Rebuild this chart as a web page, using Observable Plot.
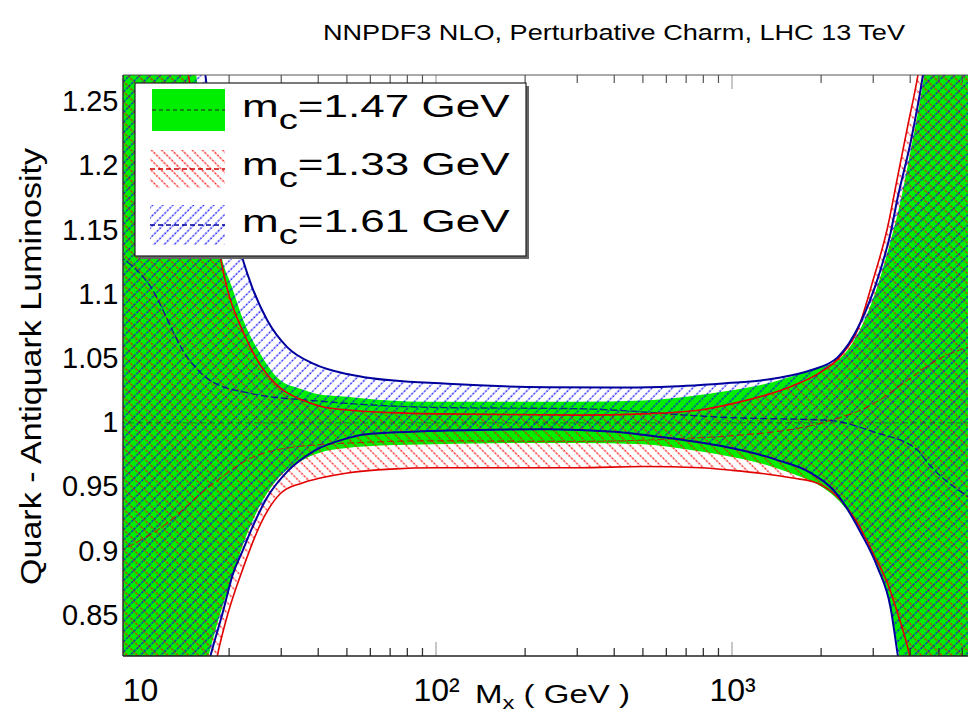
<!DOCTYPE html>
<html><head><meta charset="utf-8">
<script src="https://cdn.jsdelivr.net/npm/d3@7"></script>
<script src="https://cdn.jsdelivr.net/npm/@observablehq/plot@0.6"></script>
<style>body{margin:0;background:#fff} #chart svg{font-family:"Liberation Sans",Arial,sans-serif}</style>
</head><body><div id="chart"></div>
<script>
// ---------- data ----------
const xDomain = [8.76, 6270];
const yDomain = [0.818, 1.2706];

// m_c = 1.47 GeV (reference, green solid band)
const massGreen = [8.5, 12, 14, 15, 17, 18.9, 20.4, 22.3, 25.4, 29.7, 35, 40, 50, 65, 100, 180, 300, 500, 700, 1000, 1300, 1600, 1936, 2317, 2704, 3090, 3420, 3650, 4000, 4385, 5000, 6500];
const loGreen = [0.55, 0.66, 0.73, 0.76, 0.817, 0.855, 0.878, 0.905, 0.935, 0.958, 0.970, 0.976, 0.980, 0.982, 0.983, 0.984, 0.984, 0.983, 0.979, 0.973, 0.967, 0.960, 0.952, 0.938, 0.917, 0.889, 0.858, 0.822, 0.76, 0.70, 0.60, 0.40];
const hiGreen = [1.70, 1.45, 1.34, 1.295, 1.195, 1.128, 1.106, 1.080, 1.054, 1.033, 1.026, 1.022, 1.020, 1.0175, 1.016, 1.016, 1.016, 1.017, 1.020, 1.025, 1.030, 1.036, 1.042, 1.050, 1.072, 1.105, 1.140, 1.165, 1.21, 1.26, 1.36, 1.60];

// m_c = 1.33 GeV (red hatched band)
const massRed = [8.5, 12, 15, 17, 18.2, 19.6, 22.3, 25.4, 29.7, 35, 40.5, 50, 70, 100, 300, 500, 780, 1000, 1312, 1600, 1936, 2317, 2642, 2992, 3339, 3608, 3898, 4217, 5000, 6500];
const loRed = [0.48, 0.60, 0.71, 0.78, 0.819, 0.849, 0.888, 0.921, 0.945, 0.953, 0.957, 0.961, 0.964, 0.965, 0.965, 0.966, 0.965, 0.963, 0.960, 0.957, 0.953, 0.940, 0.922, 0.898, 0.875, 0.852, 0.826, 0.79, 0.68, 0.48];
const hiRed = [1.60, 1.40, 1.25, 1.175, 1.14, 1.105, 1.07, 1.045, 1.027, 1.018, 1.013, 1.010, 1.008, 1.007, 1.006, 1.007, 1.010, 1.015, 1.022, 1.029, 1.038, 1.052, 1.072, 1.112, 1.152, 1.191, 1.230, 1.269, 1.39, 1.62];

// m_c = 1.61 GeV (blue hatched band)
const massBlue = [8.5, 12, 14, 15, 16, 17, 19, 20.5, 22.1, 23.8, 26.8, 31.3, 38.5, 50, 57, 109, 236, 400, 571, 961, 1245, 1418, 1837, 2265, 2704, 3090, 3420, 3610, 4000, 4385, 5000, 6500];
const loBlue = [0.54, 0.65, 0.72, 0.75, 0.785, 0.813, 0.853, 0.882, 0.90, 0.918, 0.942, 0.962, 0.978, 0.988, 0.991, 0.994, 0.995, 0.993, 0.989, 0.981, 0.975, 0.971, 0.961, 0.944, 0.915, 0.8875, 0.856, 0.8205, 0.755, 0.69, 0.59, 0.38];
const hiBlue = [1.75, 1.52, 1.40, 1.35, 1.30, 1.25, 1.185, 1.155, 1.128, 1.106, 1.080, 1.059, 1.046, 1.038, 1.0356, 1.0305, 1.0278, 1.0275, 1.028, 1.031, 1.033, 1.035, 1.041, 1.051, 1.078, 1.112, 1.148, 1.175, 1.219, 1.269, 1.37, 1.62];

// central values (dashed lines)
const cMassGreen = [8.5, 100, 6500];
const cGreen = [1.0, 1.0, 1.0];
const cMassRed = [8.5, 12, 17, 25, 40, 100, 300, 700, 1000, 2000, 3000, 4000, 5000, 6500];
const cRed = [0.90, 0.92, 0.95, 0.975, 0.983, 0.986, 0.9855, 0.988, 0.99, 1.0, 1.015, 1.035, 1.05, 1.06];
const cMassBlue = [8.5, 10.6, 14.4, 17.2, 23.5, 40, 100, 300, 1000, 2100, 3000, 4200, 4600, 6500];
const cBlue = [1.13, 1.109, 1.051, 1.033, 1.023, 1.017, 1.012, 1.011, 1.004, 1.002, 0.993, 0.979, 0.968, 0.94];

// axes
const yTicks = [0.85, 0.9, 0.95, 1, 1.05, 1.1, 1.15, 1.2, 1.25];
const yTickLabels = ["0.85", "0.9", "0.95", "1", "1.05", "1.1", "1.15", "1.2", "1.25"];
const xTicks = [10, 100, 1000];
const xTickLabels = ["10", "10\u00B2", "10\u00B3"];
const xMinorTicks = [20, 30, 40, 50, 60, 70, 80, 90, 200, 300, 400, 500, 600, 700, 800, 900, 2000, 3000, 4000, 5000, 6000];
const xMajorTicks = [100, 1000];

const legendLabels = ["1.47", "1.33", "1.61"];
const titleText = "NNPDF3 NLO, Perturbative Charm, LHC 13 TeV";
const yLabelText = "Quark - Antiquark Luminosity";

// ---------- build ----------
const GREEN = "#00ee00";
const RED = "#ff0000";
const BLUE = "#0000ff";
const NAVY = "#00009c";
const rows = (m, lo, hi) => m.map((v, i) => ({m: v, lo: lo[i], hi: hi[i]}));
const cRows = (m, c) => m.map((v, i) => ({m: v, c: c[i]}));
const green = rows(massGreen, loGreen, hiGreen);
const red = rows(massRed, loRed, hiRed);
const blue = rows(massBlue, loBlue, hiBlue);
const curve = "monotone-x";

const chart = Plot.plot({
  width: 968, height: 719,
  marginTop: 75, marginBottom: 63, marginLeft: 123, marginRight: 0,
  style: {fontFamily: "'Liberation Sans', Arial, sans-serif", background: "white", color: "black"},
  x: {type: "log", domain: xDomain, label: null},
  y: {domain: yDomain, label: null},
  marks: [
    Plot.areaY(green, {x: "m", y1: "lo", y2: "hi", fill: GREEN, curve, clip: true}),
    Plot.areaY(red, {x: "m", y1: "lo", y2: "hi", fill: "url(#hatchRed)", curve, clip: true}),
    Plot.areaY(blue, {x: "m", y1: "lo", y2: "hi", fill: "url(#hatchBlue)", curve, clip: true}),
    Plot.line(cRows(cMassGreen, cGreen), {x: "m", y: "c", stroke: "#222", strokeWidth: 1, strokeOpacity: 0.5, strokeDasharray: "5,4", curve, clip: true}),
    Plot.line(cRows(cMassRed, cRed), {x: "m", y: "c", stroke: "#cc0000", strokeWidth: 1.2, strokeOpacity: 0.7, strokeDasharray: "6,4", curve, clip: true}),
    Plot.line(cRows(cMassBlue, cBlue), {x: "m", y: "c", stroke: NAVY, strokeWidth: 1.4, strokeOpacity: 0.8, strokeDasharray: "6,4", curve, clip: true}),
    Plot.line(red, {x: "m", y: "lo", stroke: "#e00000", strokeWidth: 1.6, curve, clip: true}),
    Plot.line(red, {x: "m", y: "hi", stroke: "#e00000", strokeWidth: 1.6, curve, clip: true}),
    Plot.line(blue, {x: "m", y: "lo", stroke: NAVY, strokeWidth: 2, curve, clip: true}),
    Plot.line(blue, {x: "m", y: "hi", stroke: NAVY, strokeWidth: 2, curve, clip: true}),
    Plot.axisY(yTicks, {tickSize: 0, tickPadding: 5, fontSize: 29, label: null,
      tickFormat: d => yTickLabels[yTicks.indexOf(d)]}),
    Plot.axisX(xTicks, {tickSize: 0, tickPadding: 22, fontSize: 32, label: null,
      tickFormat: d => xTickLabels[xTicks.indexOf(d)]})
  ]
});

const svg = d3.select(chart);
const defs = svg.insert("defs", ":first-child");
function hatch(id, color, angle) {
  const s = 7.2;
  const p = defs.append("pattern").attr("id", id)
    .attr("patternUnits", "userSpaceOnUse").attr("width", s).attr("height", s)
    .attr("patternTransform", `rotate(${angle})`);
  // faint hatch line + dots, like the rasterised ROOT hatching
  p.append("line").attr("x1", 1).attr("y1", 0).attr("x2", 1).attr("y2", s)
    .attr("stroke", color).attr("stroke-width", 0.9).attr("stroke-opacity", 0.4);
  p.append("line").attr("x1", 1).attr("y1", 0.6).attr("x2", 1).attr("y2", s)
    .attr("stroke", color).attr("stroke-width", 1.3).attr("stroke-dasharray", "1.4,2.2");
}
hatch("hatchRed", RED, -45);
hatch("hatchBlue", BLUE, 45);

const sx = chart.scale("x"), sy = chart.scale("y");
const x0 = sx.apply(xDomain[0]), x1 = sx.apply(xDomain[1]);
const yb = sy.apply(yDomain[0]), yt = sy.apply(yDomain[1]);

const g = svg.append("g");
// ticks (inside, bottom and top)
xMinorTicks.forEach(v => {
  const x = sx.apply(v);
  g.append("line").attr("x1", x).attr("x2", x).attr("y1", yb).attr("y2", yb - 8).attr("stroke", "#333").attr("stroke-width", 1.3);
  g.append("line").attr("x1", x).attr("x2", x).attr("y1", yt).attr("y2", yt + 8).attr("stroke", "#555").attr("stroke-width", 1.2);
});
xMajorTicks.forEach(v => {
  const x = sx.apply(v);
  g.append("line").attr("x1", x).attr("x2", x).attr("y1", yb).attr("y2", yb - 14).attr("stroke", "#aaa").attr("stroke-width", 1.3);
  g.append("line").attr("x1", x).attr("x2", x).attr("y1", yt).attr("y2", yt + 14).attr("stroke", "#aaa").attr("stroke-width", 1.3);
});
// frame
g.append("line").attr("x1", x0).attr("x2", x1).attr("y1", yb).attr("y2", yb).attr("stroke", "#222").attr("stroke-width", 1.6);
g.append("line").attr("x1", x0).attr("x2", x1).attr("y1", yt).attr("y2", yt).attr("stroke", "#555").attr("stroke-width", 1.2);
g.append("line").attr("x1", x0).attr("x2", x0).attr("y1", yt).attr("y2", yb).attr("stroke", "#333").attr("stroke-width", 1.5);

// legend
const L = svg.append("g").attr("text-anchor", "start");
L.append("rect").attr("x", 138).attr("y", 86).attr("width", 391).attr("height", 173).attr("fill", "#666");
L.append("rect").attr("x", 135).attr("y", 83).attr("width", 391).attr("height", 173).attr("fill", "white").attr("stroke", "#222").attr("stroke-width", 1.2);
L.append("rect").attr("x", 152).attr("y", 89).attr("width", 73).attr("height", 42).attr("fill", GREEN);
L.append("line").attr("x1", 152).attr("x2", 225).attr("y1", 110).attr("y2", 110).attr("stroke", "#222").attr("stroke-dasharray", "4,3");
L.append("rect").attr("x", 150).attr("y", 150).attr("width", 75).attr("height", 38).attr("fill", "url(#hatchRed)");
L.append("line").attr("x1", 150).attr("x2", 225).attr("y1", 169).attr("y2", 169).attr("stroke", "#cc0000").attr("stroke-width", 1.5).attr("stroke-dasharray", "5,3");
L.append("rect").attr("x", 150).attr("y", 205).attr("width", 75).attr("height", 40).attr("fill", "url(#hatchBlue)");
L.append("line").attr("x1", 150).attr("x2", 225).attr("y1", 225).attr("y2", 225).attr("stroke", NAVY).attr("stroke-width", 1.5).attr("stroke-dasharray", "5,3");
[117, 175, 232].forEach((by, i) => {
  const t = L.append("g").attr("transform", `translate(242,${by}) scale(1.42,1)`)
    .append("text").attr("text-anchor", "start").attr("font-size", 31).attr("fill", "black");
  t.append("tspan").text("m");
  t.append("tspan").attr("dy", 12).attr("font-size", 27).text("c");
  t.append("tspan").attr("dy", -12).text("=" + legendLabels[i] + " GeV");
});

// title
svg.append("text").attr("x", 323).attr("y", 40).attr("font-size", 22).attr("text-anchor", "start")
  .attr("textLength", 582).attr("lengthAdjust", "spacingAndGlyphs").text(titleText);
// y label
svg.append("text").attr("transform", "translate(41,366.5) rotate(-90)").attr("text-anchor", "middle")
  .attr("font-size", 29).attr("textLength", 437).attr("lengthAdjust", "spacingAndGlyphs").text(yLabelText);
// x label
const xl = svg.append("text").attr("x", 475).attr("y", 703).attr("font-size", 25).attr("text-anchor", "start")
  .attr("textLength", 155).attr("lengthAdjust", "spacingAndGlyphs");
xl.append("tspan").text("M");
xl.append("tspan").attr("dy", 6).attr("font-size", 18).text("x");
xl.append("tspan").attr("dy", -6).text(" ( GeV )");

document.getElementById("chart").appendChild(chart);
</script>
</body></html>
